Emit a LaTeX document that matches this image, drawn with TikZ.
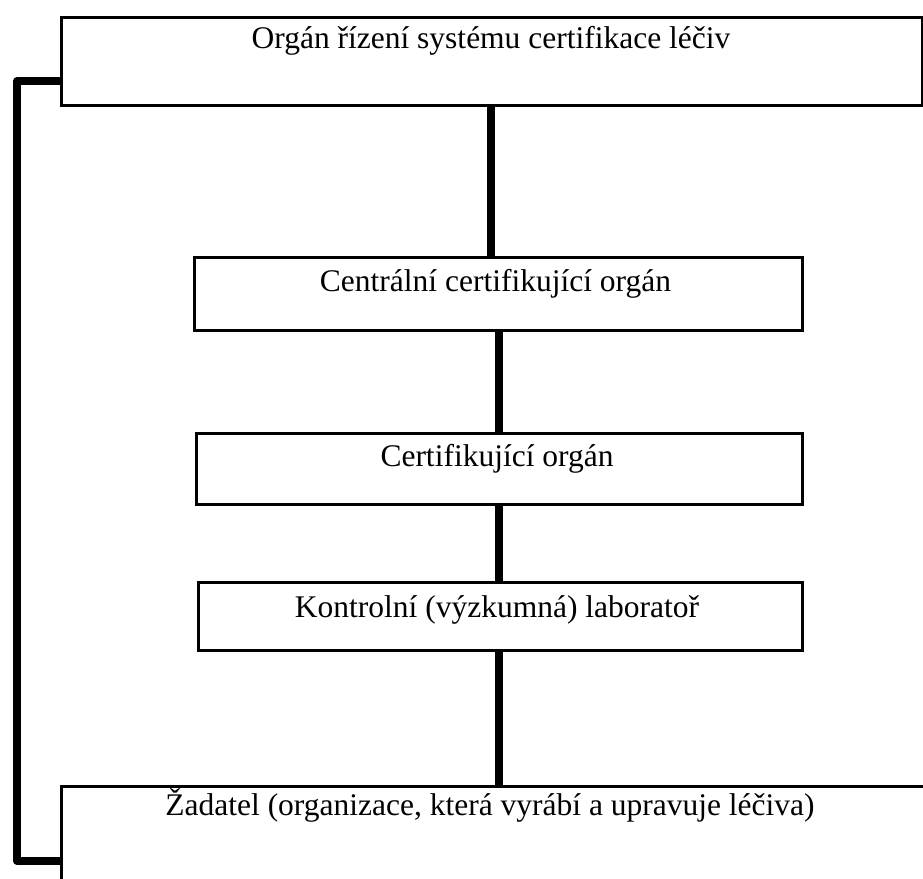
\documentclass[tikz,border=0pt]{standalone}
\usepackage{fontspec}
\setmainfont{Liberation Serif}
\usetikzlibrary{backgrounds}
\begin{document}
\begin{tikzpicture}[x=1pt,y=-1pt,
  box/.style={draw, line width=2.6pt, fill=white, inner sep=0pt, anchor=north west},
  lbl/.style={anchor=base, inner sep=0pt, font=\fontsize{31.5}{36}\selectfont},
  conn/.style={line width=8pt, line cap=round},
  brk/.style={line width=8pt, line cap=round, line join=round}]
\clip (0,0) rectangle (923,878);
% boxes
\node[box, minimum width=861pt, minimum height=88pt] (top) at (60,16) {};
\node[box, minimum width=608pt, minimum height=73pt] (central) at (193,256) {};
\node[box, minimum width=606pt, minimum height=71pt] (cert) at (195,432) {};
\node[box, minimum width=604pt, minimum height=68pt] (kon) at (197,581) {};
\node[box, minimum width=900pt, minimum height=120pt] (zad) at (60,785) {};
% texts
\node[lbl] (ttop) at (491,48) {Orgán řízení systému certifikace léčiv};
\node[lbl] (tcen) at (495.5,291) {Centrální certifikující orgán};
\node[lbl] (tcer) at (497,466) {Certifikující orgán};
\node[lbl] (tkon) at (497,617) {Kontrolní (výzkumná) laboratoř};
\node[lbl] (tzad) at (490,815) {Žadatel (organizace, která vyrábí a upravuje léčiva)};
% helper coordinates
\coordinate (xa) at (491,0);
\coordinate (xb) at (499,0);
\coordinate (bx) at (17,0);
\coordinate (ya) at (0,81);
\coordinate (yb) at (0,861);
\begin{scope}[on background layer]
\draw[conn] (top.south -| xa) -- (central.north -| xa);
\draw[conn] (central.south -| xb) -- (cert.north -| xb);
\draw[conn] (cert.south -| xb) -- (kon.north -| xb);
\draw[conn] (kon.south -| xb) -- (zad.north -| xb);
\draw[brk] (top.west |- ya) -- (bx |- ya) -- (bx |- yb) -- (zad.west |- yb);
\end{scope}
\end{tikzpicture}
\end{document}
